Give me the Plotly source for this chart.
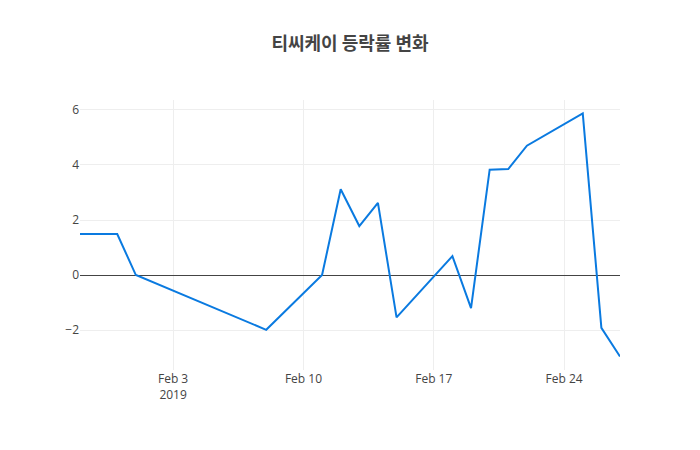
import plotly.graph_objs as go

# 날짜별 등락률 (%)
dates = ["2019-01-29", "2019-01-31", "2019-02-01", "2019-02-08", "2019-02-11",
         "2019-02-12", "2019-02-13", "2019-02-14", "2019-02-15", "2019-02-18",
         "2019-02-19", "2019-02-20", "2019-02-21", "2019-02-22", "2019-02-25",
         "2019-02-26", "2019-02-27"]
rates = [1.49, 1.49, 0.0, -1.99, 0.0,
         3.12, 1.78, 2.62, -1.54, 0.69,
         -1.2, 3.83, 3.85, 4.7, 5.87,
         -1.92, -2.96]

trace = go.Scatter(
    x=dates,
    y=rates,
    mode="lines",
    line=dict(color="#0A7AE0", width=2),
    name="등락률"
)

layout = go.Layout(
    template="none",
    title=dict(text="<b>티씨케이 등락률 변화</b>", x=0.5,
               font=dict(family="Noto Sans CJK KR", size=18, color="#444")),
    font=dict(family="Open Sans", color="#444"),
    width=700,
    height=450,
    margin=dict(l=80, r=80, t=100, b=80),
    xaxis=dict(showgrid=True, gridcolor="#eee", showline=False, ticks=""),
    yaxis=dict(showgrid=True, gridcolor="#eee", zeroline=True, zerolinecolor="#444",
               zerolinewidth=1, showline=False, ticks=""),
    plot_bgcolor="white",
    paper_bgcolor="white",
    showlegend=False
)

fig = go.Figure(data=[trace], layout=layout)
# 페이지 기본 여백 제거, 모드바 숨김
fig.write_html("out.html", config={"displayModeBar": False},
               post_script="document.body.style.margin='0';")
